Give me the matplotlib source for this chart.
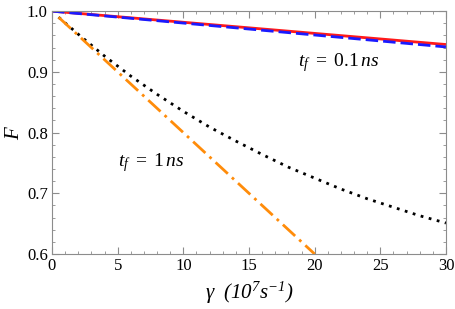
import matplotlib
matplotlib.use('Agg')
import matplotlib.pyplot as plt
from matplotlib.ticker import MultipleLocator

plt.rcParams['font.family'] = ['Liberation Serif', 'DejaVu Serif']
plt.rcParams['mathtext.fontset'] = 'custom'
plt.rcParams['mathtext.rm'] = 'Liberation Serif'
plt.rcParams['mathtext.it'] = 'Liberation Serif:italic'
# sf slot used for italic digits in the axis unit
plt.rcParams['mathtext.sf'] = 'Liberation Serif:italic'

# values
gamma_fast = [0, 30]
f_fast_exact = [1.0, 0.945]
f_fast_approx = [1.0, 0.941]

gamma_slow = [0.5, 2, 4, 6, 8, 10, 12, 14, 16, 18, 20, 22, 24, 26, 28, 30]
f_slow_dotted = [0.990, 0.962, 0.926, 0.893, 0.863, 0.835, 0.809, 0.786,
                 0.764, 0.743, 0.725, 0.707, 0.691, 0.677, 0.663, 0.651]

gamma_lin = [0.5, 20]
f_slow_lin = [0.99, 0.60]

gray = '#8c8c8c'

fig = plt.figure(figsize=(4.56, 3.09), dpi=100)
ax = fig.add_axes([0.114, 0.178, 0.864, 0.786])

ax.plot(gamma_fast, f_fast_exact, color='#ff1a1a', lw=2.0, solid_capstyle='butt')
ax.plot(gamma_fast, f_fast_approx, color='#1a1aff', lw=2.0, dashes=(4.5, 1.8))
ax.plot(gamma_slow, f_slow_dotted, color='black', lw=2.0, dashes=(1.0, 2.0))
ax.plot(gamma_lin, f_slow_lin, color='#ff8c0a', lw=2.0, dashes=(6.0, 2.0, 1.0, 2.0))

ax.text(18.7, 0.916, r'$t_f\ =\ 0.1\,ns$', fontsize=14, va='center')
ax.text(5.0, 0.750, r'$t_f\ =\ 1\,ns$', fontsize=14, va='center')

ax.set_xlim(0, 30)
ax.set_ylim(0.6, 1.0)
ax.xaxis.set_major_locator(MultipleLocator(5))
ax.xaxis.set_minor_locator(MultipleLocator(1))
ax.yaxis.set_minor_locator(MultipleLocator(0.02))
ax.set_yticks([0.6, 0.7, 0.8, 0.9, 1.0])
ax.set_yticklabels(['0.6', '0.7', '0.8', '0.9', '1.0'])

for s in ax.spines.values():
    s.set_color(gray)
    s.set_linewidth(0.8)
ax.tick_params(which='both', direction='in', color=gray, top=True, right=True,
               labeltop=False, labelright=False, labelsize=12, pad=3)
ax.tick_params(which='major', length=5, width=0.8)
ax.tick_params(which='minor', length=2.5, width=0.6)

ax.set_xlabel(r'$\gamma\ \ \mathsf{(10^7 s^{-1})}$', fontsize=15, labelpad=4)
ax.set_ylabel(r'$F$', fontsize=15, labelpad=2)

fig.savefig('out.png', dpi=100)
